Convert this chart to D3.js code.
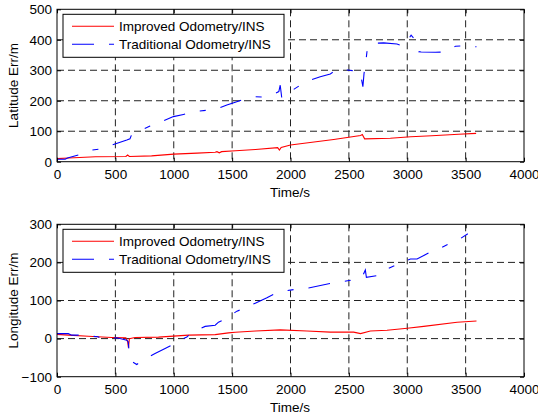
<!DOCTYPE html>
<html>
<head>
<meta charset="utf-8">
<script src="https://cdn.jsdelivr.net/npm/d3@7"></script>
<style>
html,body{margin:0;padding:0;background:#fff;}
svg{display:block;}
text{font-family:Arial,"Liberation Sans",Helvetica,sans-serif;fill:#000;}
</style>
</head>
<body>
<svg id="chart" width="538" height="417"></svg>
<script>
// ---------- DATA ----------
const seriesNames = ["Improved Odometry/INS", "Traditional Odometry/INS"];
const xTicks = [0, 500, 1000, 1500, 2000, 2500, 3000, 3500, 4000];
const latTicks = [0, 100, 200, 300, 400, 500];
const lonTicks = [-100, 0, 100, 200, 300];

// Latitude error, improved
const latImpT = [0,100,330,590,605,620,810,1000,1200,1355,1370,1390,1410,1530,1700,1890,1905,1920,2000,2370,2600,2615,2635,2855,3030,3210,3440,3590];
const latImpV = [10,12,16,17,22,17,19,25,28,31,33,29,33,36,40,46,38,47,55,73,86,89,75,77,82,85,90,93];
// Latitude error, traditional
const latTraT = [0,70,90,183,300,360,475,598,625,635,740,797,912,997,1083,1206,1297,1383,1455,1527,1627,1698,1760,1855,1900,1912,1925,1960,2027,2127,2255,2341,2398,2484,2555,2598,2620,2630,2640,2655,2698,2798,2912,2970,3033,3070,3098,3119,3241,3313,3413,3499,3593];
const latTraV = [8,8,12,22,38,41,55,71,75,85,107,117,134,148,155,166,169,175,186,195,208,213,212,222,230,251,210,215,237,262,279,288,303,301,298,292,246,290,311,361,388,390,386,379,415,399,361,360,359,360,379,380,377];

// Longitude error, improved
const lonImpT = [0,97,268,469,590,605,612,620,669,869,1126,1355,1469,1527,1700,1912,2141,2341,2541,2600,2684,2827,3000,3141,3427,3593];
const lonImpV = [11,9,6,3,2,-8,-24,0,3,4,9,10.5,15,16.5,20,23,20,17,17,13,20,22,27,32,43,46];
// Longitude error, traditional
const lonTraT = [0,97,126,197,300,350,383,450,512,598,610,618,640,683,731,840,926,997,1060,1112,1155,1269,1355,1383,1435,1541,1592,1698,1798,1855,1970,2012,2155,2327,2455,2513,2555,2613,2641,2650,2755,2798,2927,3027,3084,3198,3241,3365,3427,3519];
const lonTraV = [13,13,9,9,6,5,-1,1,2,-4,-8,-35,-60,-68,-57,-39,-26,-15,-3,4,16,32,35,43,50,72,78,93,107,116,126,128,133,144,150,153,157,161,180,161,166,179,196,209,209,227,231,250,257,275];

// ---------- DRAW ----------
const svg = d3.select("#chart");
const FONT = 13.5;
const colors = ["#ff0000", "#0000ff"];
const dashes = [null, "22,15,6,15"];

function zip(t, v){ return t.map((d,i)=>[d, v[i]]); }

function panel(cfg){
  const g = svg.append("g");
  const x = d3.scaleLinear().domain([0,4000]).range([57,524]);
  const y = d3.scaleLinear().domain(cfg.yDomain).range([cfg.bottom, cfg.top]);

  // grid
  const gridG = g.append("g").attr("stroke","#222").attr("stroke-width",1).attr("stroke-dasharray","7,4");
  xTicks.slice(1,-1).forEach(t=>{
    gridG.append("line").attr("x1",x(t)).attr("x2",x(t)).attr("y1",cfg.top).attr("y2",cfg.bottom);
  });
  cfg.yTicks.slice(1,-1).forEach(t=>{
    gridG.append("line").attr("x1",57).attr("x2",524).attr("y1",y(t)).attr("y2",y(t));
  });

  // lines
  const line = d3.line().x(d=>x(d[0])).y(d=>y(d[1]));
  cfg.series.forEach((s,i)=>{
    g.append("path").datum(s).attr("d",line).attr("fill","none")
      .attr("stroke",colors[i]).attr("stroke-width",1.1)
      .attr("stroke-dasharray",dashes[i]);
  });

  // axes (inward ticks)
  const ax = g.append("g").attr("transform",`translate(0,${cfg.bottom})`)
    .call(d3.axisBottom(x).tickValues(xTicks).tickSizeInner(-4).tickSizeOuter(0).tickPadding(8).tickFormat(d3.format("d")));
  const axT = g.append("g").attr("transform",`translate(0,${cfg.top})`)
    .call(d3.axisTop(x).tickValues(xTicks).tickSizeInner(-4).tickSizeOuter(0).tickFormat(""));
  const ay = g.append("g").attr("transform",`translate(57,0)`)
    .call(d3.axisLeft(y).tickValues(cfg.yTicks).tickSizeInner(-4).tickSizeOuter(0).tickPadding(5).tickFormat(d3.format("d")));
  const ayR = g.append("g").attr("transform",`translate(524,0)`)
    .call(d3.axisRight(y).tickValues(cfg.yTicks).tickSizeInner(-4).tickSizeOuter(0).tickFormat(""));
  [ax,axT,ay,ayR].forEach(a=>{
    a.select(".domain").remove();
    a.selectAll("line").attr("stroke","#000");
    a.selectAll("text").attr("font-size",FONT).attr("font-family",'Arial,"Liberation Sans",sans-serif').attr("fill","#000");
  });

  // box
  g.append("rect").attr("x",57).attr("y",cfg.top).attr("width",524-57).attr("height",cfg.bottom-cfg.top)
    .attr("fill","none").attr("stroke","#000").attr("stroke-width",1);

  // axis labels
  g.append("text").attr("x",290).attr("y",cfg.bottom+35).attr("text-anchor","middle")
    .attr("font-size",FONT).text("Time/s");
  g.append("text").attr("transform",`translate(18,${(cfg.top+cfg.bottom)/2}) rotate(-90)`)
    .attr("text-anchor","middle").attr("font-size",FONT).text(cfg.yLabel);

  // legend
  const lg = g.append("g").attr("transform",`translate(63,${cfg.top+5})`);
  lg.append("rect").attr("x",0).attr("y",0).attr("width",221).attr("height",43)
    .attr("fill","#fff").attr("stroke","#000").attr("stroke-width",1);
  seriesNames.forEach((n,i)=>{
    const yy = 12 + i*18;
    lg.append("line").attr("x1",9).attr("x2",51).attr("y1",yy).attr("y2",yy)
      .attr("stroke",colors[i]).attr("stroke-width",1.1).attr("stroke-dasharray",dashes[i]);
    lg.append("text").attr("x",56).attr("y",yy+5).attr("font-size",FONT).text(n);
  });
}

panel({top:9.3,bottom:161.7,yDomain:[0,500],yTicks:latTicks,yLabel:"Latitude Err/m",
  series:[zip(latImpT,latImpV), zip(latTraT,latTraV)]});
panel({top:224.3,bottom:376.7,yDomain:[-100,300],yTicks:lonTicks,yLabel:"Longitude Err/m",
  series:[zip(lonImpT,lonImpV), zip(lonTraT,lonTraV)]});
</script>
</body>
</html>
